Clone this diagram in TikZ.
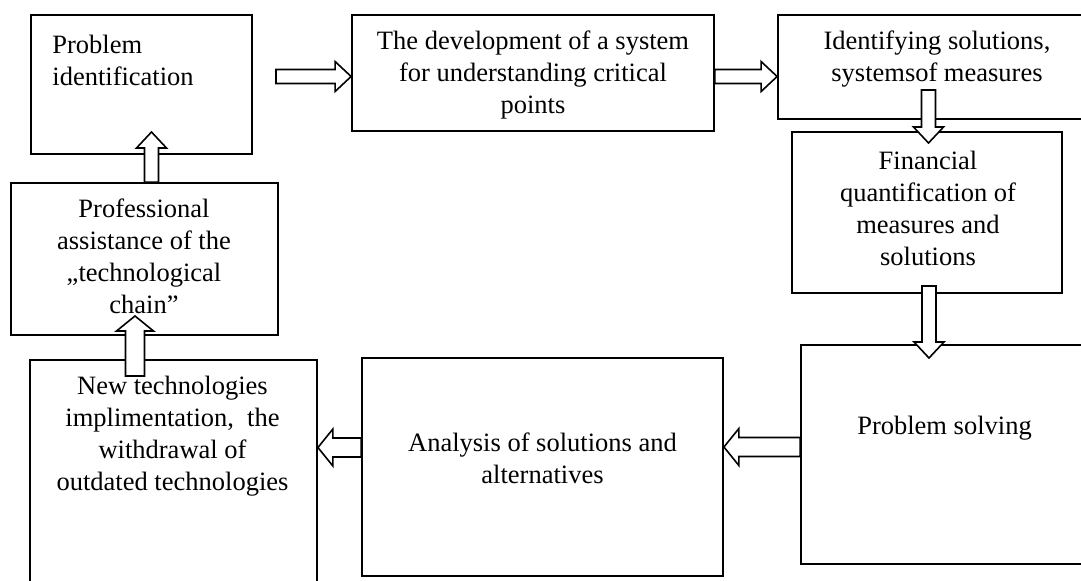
\documentclass[tikz,border=0pt]{standalone}
\usepackage{fontspec}
\setmainfont{Liberation Serif}
\usetikzlibrary{calc,fit}

\begin{document}
\begin{tikzpicture}[
    x=0.5pt, y=-0.5pt,
    box/.style={draw, line width=0.9pt, inner sep=0pt},
    txt/.style={align=center, inner sep=0pt, font=\fontsize{13.25}{16}\selectfont},
    arrshaft/.store in=\aw, arrhead/.store in=\ah, arrlen/.store in=\al,
    arrshaft=3.5pt, arrhead=7.5pt, arrlen=8pt,
    widearr/.style={arrshaft=4.75pt, arrhead=9.25pt, arrlen=7.5pt},
    barrow/.style={draw, fill=white, line width=0.8pt, to path={
        ($(\tikztostart)!\aw!90:(\tikztotarget)$)
        -- ($(\tikztotarget)!\al!(\tikztostart)!\aw!90:(\tikztotarget)$)
        -- ($(\tikztotarget)!\al!(\tikztostart)!\ah!90:(\tikztotarget)$)
        -- (\tikztotarget)
        -- ($(\tikztotarget)!\al!(\tikztostart)!\ah!-90:(\tikztotarget)$)
        -- ($(\tikztotarget)!\al!(\tikztostart)!\aw!-90:(\tikztotarget)$)
        -- ($(\tikztostart)!\aw!-90:(\tikztotarget)$) -- cycle}},
  ]
  \useasboundingbox (0,0) rectangle (1081,580);

  % --- Boxes ---
  \node[box, fit={(31,15) (252,154)}]    (pid)   {};
  \node[box, fit={(352,15) (714,131)}]   (dev)   {};
  \node[box, fit={(778,15) (1090,119)}]  (ids)   {};
  \node[box, fit={(792,132) (1062,293)}] (fin)   {};
  \node[box, fit={(801,345) (1090,564)}] (sol)   {};
  \node[box, fit={(362,358) (723,576)}]  (ana)   {};
  \node[box, fit={(30,360) (317,590)}]   (ntech) {};
  \node[box, fit={(11,183) (278,335)}]   (prof)  {};

  % --- Arrows ---
  \coordinate (a1s) at (276,76.5);
  \coordinate (a3s) at (928.5,90);
  \coordinate (a3e) at (928.5,143);
  \coordinate (a4s) at (929,286);
  \coordinate (a4e) at (929,358);
  \coordinate (a7s) at (135,376);
  \coordinate (a7e) at (135,316);
  \coordinate (a8e) at (151.5,132);

  \draw[barrow] (a1s) to (dev.west |- a1s);
  \draw[barrow] (dev.east |- a1s) to (ids.west |- a1s);
  \draw[barrow] (a3s) to (a3e);
  \draw[barrow] (a4s) to (a4e);
  \draw[barrow, widearr] (sol.west |- 0,447) to (ana.east |- 0,447);
  \draw[barrow, widearr] (ana.west |- 0,447.5) to (ntech.east |- 0,447.5);
  \draw[barrow, widearr] (a7s) to (a7e);
  \draw[barrow] (prof.north -| a8e) to (a8e);

  % --- Texts ---
  \node[txt, anchor=west, align=left] (pidt) at (52,60) {Problem\\identification};
  \node[txt] (devt)   at (533,75)    {The development of a system\\for understanding critical\\points};
  \node[txt] (idst)   at (937,59)    {Identifying solutions,\\systemsof measures};
  \node[txt] (fint)   at (928,208)   {Financial\\quantification of\\measures and\\solutions};
  \node[txt] (solt)   at (944.5,428) {Problem solving};
  \node[txt] (anat)   at (542.5,458) {Analysis of solutions and\\alternatives};
  \node[txt] (ntecht) at (172.5,436) {New technologies\\implimentation,~ the\\withdrawal of\\outdated technologies};
  \node[txt] (proft)  at (144,256.5) {Professional\\assistance of the\\„technological\\chain”};

\end{tikzpicture}
\end{document}
